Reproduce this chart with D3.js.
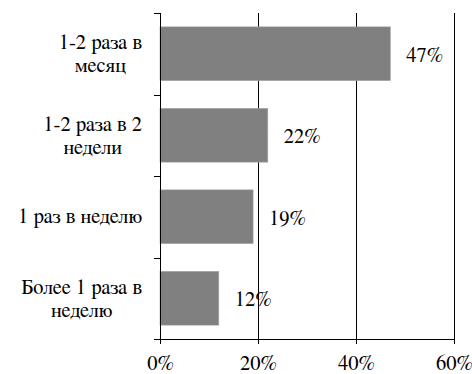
<!DOCTYPE html>
<html>
<head>
<meta charset="utf-8">
<script src="https://cdn.jsdelivr.net/npm/d3@7"></script>
<style>
  body { margin: 0; background: #fff; }
  svg { display: block; }
</style>
</head>
<body>
<svg id="chart" width="472" height="374"></svg>
<script>
//Categories, top to bottom, with line breaks as in the original
var categories = ["1-2 раза в месяц", "1-2 раза в 2 недели", "1 раз в неделю", "Более 1 раза в неделю"];
var categoryLines = [["1-2 раза в", "месяц"], ["1-2 раза в 2", "недели"], ["1 раз в неделю"], ["Более 1 раза в", "неделю"]];
//Share of respondents
var values = [0.47, 0.22, 0.19, 0.12];
//X axis ticks
var xTicks = [0, 0.2, 0.4, 0.6];

//FreeSerif is the serif face here that carries Cyrillic
var serif = "FreeSerif, 'Liberation Serif', 'Times New Roman', serif";
var fontSize = 20.5;

var svg = d3.select("#chart"),
margin = {top: 13, right: 18, bottom: 35, left: 160},
width = +svg.attr("width") - margin.left - margin.right,
height = +svg.attr("height") - margin.top - margin.bottom,
g = svg.append("g").attr("transform", "translate(" + margin.left + "," + margin.top + ")");

var x = d3.scaleLinear().domain([0, 0.6]).range([0, width]);

//band for axis ticks and labels
var yBand = d3.scaleBand().domain(categories).range([0, height]).padding(0);
//bars sit inside each band
var yBar = d3.scaleBand().domain(categories).range([0, height]).paddingInner(0.34).paddingOuter(0.17);

var fmt = d3.format(".0%");

//Vertical gridlines
g.append("g")
.selectAll("line")
.data(xTicks.slice(1))
.enter().append("line")
.attr("x1", function(d) { return Math.round(x(d)) + 0.5; })
.attr("x2", function(d) { return Math.round(x(d)) + 0.5; })
.attr("y1", 0)
.attr("y2", height)
.attr("stroke", "#000")
.attr("stroke-width", 1);

//Bars
g.append("g")
.selectAll("rect")
.data(values)
.enter().append("rect")
.attr("x", 0)
.attr("y", function(d, i) { return yBar(categories[i]); })
.attr("width", function(d) { return x(d); })
.attr("height", yBar.bandwidth())
.attr("fill", "#808080")
.attr("stroke", "#a6a6a6")
.attr("stroke-width", 0.6);

//Value labels
g.append("g")
.selectAll("text")
.data(values)
.enter().append("text")
.attr("x", function(d) { return x(d) + 16; })
.attr("y", function(d, i) { return yBand(categories[i]) + yBand.bandwidth() / 2; })
.attr("dy", "0.4em")
.attr("font-family", serif)
.attr("font-size", fontSize)
.attr("fill", "#000")
.text(function(d) { return fmt(d); });

//Bottom axis
var xAxis = g.append("g")
.attr("transform", "translate(0," + height + ")")
.call(d3.axisBottom(x).tickValues(xTicks).tickFormat(fmt).tickSize(5).tickSizeOuter(0))
.attr("font-family", serif)
.attr("font-size", fontSize);
xAxis.select(".domain").attr("stroke", "#000");
xAxis.selectAll(".tick line").attr("stroke", "#000");
xAxis.selectAll("text")
.attr("fill", "#000")
.attr("y", 16)
.attr("dy", "0.71em");

//Left axis: ticks sit between categories
var boundaries = categories.map(function(c) { return yBand(c); }).concat([height]);
var yAxis = g.append("g");
yAxis.append("line")
.attr("x1", 0.5).attr("x2", 0.5)
.attr("y1", 0).attr("y2", height + 5)
.attr("stroke", "#000");
yAxis.selectAll(".ytick")
.data(boundaries)
.enter().append("line")
.attr("class", "ytick")
.attr("x1", -6).attr("x2", 0)
.attr("y1", function(d) { return Math.round(d) + 0.5; })
.attr("y2", function(d) { return Math.round(d) + 0.5; })
.attr("stroke", "#000");

//Category labels: block right aligned, lines centred in the block
var labelRight = -18;
categoryLines.forEach(function(lines, i) {
  var cy = yBand(categories[i]) + yBand.bandwidth() / 2;
  var lineGap = 23;
  var firstBase = lines.length == 1 ? cy + 6.5 : cy - 4.5;
  var t = g.append("text")
  .attr("font-family", serif)
  .attr("font-size", fontSize)
  .attr("fill", "#000")
  .attr("text-anchor", "middle");
  var spans = lines.map(function(line, j) {
    return t.append("tspan").attr("y", firstBase + j * lineGap).text(line);
  });
  var maxW = d3.max(spans, function(s) { return s.node().getComputedTextLength(); });
  spans.forEach(function(s) { s.attr("x", labelRight - maxW / 2); });
});
</script>
</body>
</html>
